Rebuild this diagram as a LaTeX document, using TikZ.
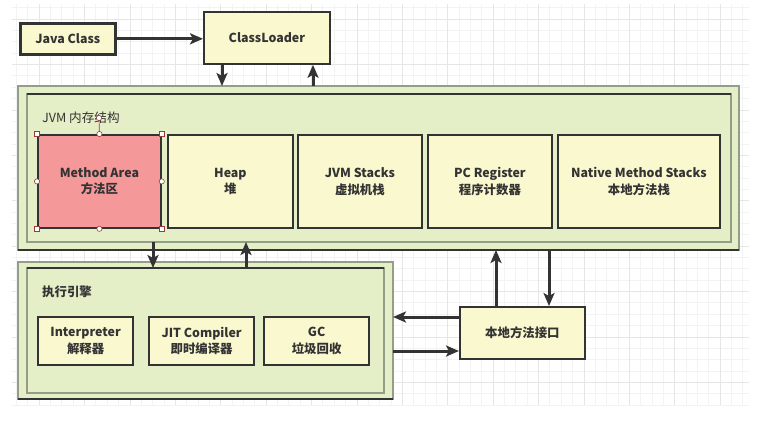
\documentclass[tikz,border=0pt]{standalone}
\usepackage{fontspec}
\setmainfont{Noto Sans CJK SC}
\usetikzlibrary{arrows.meta}
\definecolor{ink}{HTML}{333333}
\definecolor{paper}{HTML}{FAF8CF}
\definecolor{moss}{HTML}{E4EFC8}
\definecolor{mossline}{HTML}{949E86}
\definecolor{rose}{HTML}{F49899}
\definecolor{gridminor}{HTML}{F3F3F3}
\definecolor{gridmajor}{HTML}{E6E6E6}
\definecolor{handle}{HTML}{9C3B3B}
\begin{document}
\begin{tikzpicture}[x=1pt,y=-1pt,
  every node/.style={font=\bfseries\fontsize{12.4}{16.5}\selectfont, text=ink, align=center, inner sep=0pt},
  part/.style={draw=ink, line width=1.8pt, fill=paper, anchor=north west},
  frame/.style={draw=mossline, line width=1.2pt, fill=moss, anchor=north west, outer sep=0pt},
  pane/.style={draw=mossline, line width=1.2pt, anchor=north west, outer sep=0pt},
  edgeline/.style={draw=ink, line width=1.2pt},
  flow/.style={draw=ink, line width=3pt, -{Stealth[length=13pt,width=11pt,inset=3pt]}},
  grip/.style={draw=handle, fill=white, line width=0.6pt, minimum size=5.2pt},
]
\useasboundingbox (0,0) rectangle (757,426);

% background grid
\begin{scope}
  \clip (12,4) rectangle (749,405);
  \foreach \k in {0,...,64} {
    \pgfmathsetmacro\gx{16.4+11.35*\k}
    \draw[gridminor, line width=0.8pt] (\gx,4) -- (\gx,405);
  }
  \foreach \k in {0,...,35} {
    \pgfmathsetmacro\gy{7.75+11.35*\k}
    \draw[gridminor, line width=0.8pt] (12,\gy) -- (749,\gy);
  }
  \foreach \k in {0,...,16} {
    \pgfmathsetmacro\gx{39.1+45.4*\k}
    \draw[gridmajor, line width=0.8pt] (\gx,4) -- (\gx,405);
  }
  \foreach \k in {0,...,8} {
    \pgfmathsetmacro\gy{19.1+45.4*\k}
    \draw[gridmajor, line width=0.8pt] (12,\gy) -- (749,\gy);
  }
\end{scope}

% class loading
\node[part, line width=2.6pt, minimum width=95, minimum height=31] (jc) at (19,22) {Java Class};
\node[part, minimum width=126, minimum height=52] (cl) at (203,11) {ClassLoader};

% JVM memory structure
\node[frame, minimum width=721, minimum height=164] (jvmo) at (18,86) {};
\draw[edgeline] (jvmo.south west) -- (jvmo.south east);
\node[pane, minimum width=704, minimum height=148] (jvmi) at (27,94) {};
\draw[edgeline] (jvmi.north west) -- (jvmi.north east);
\node[anchor=west, font=\fontsize{12.6}{16}\selectfont] (jvmtitle) at (42,118) {JVM 内存结构};

\node[part, fill=rose, minimum width=123, minimum height=93] (ma) at (37,134) {Method Area\\方法区};
\node[part, minimum width=125, minimum height=93] (heap) at (167,134) {Heap\\堆};
\node[part, minimum width=124, minimum height=93] (jvms) at (297,134) {JVM Stacks\\虚拟机栈};
\node[part, minimum width=124, minimum height=93] (pcr) at (427,134) {PC Register\\程序计数器};
\node[part, minimum width=162, minimum height=93] (nms) at (557,134) {Native Method Stacks\\本地方法栈};

% selection handles around the method area
\coordinate (rot) at (99,118);
\draw[handle, line width=0.7pt] (ma.north) -- (rot);
\node[grip, circle] at (rot) {};
\foreach \a in {north west, north east, south west, south east}
  \node[grip, rectangle] at (ma.\a) {};
\foreach \a in {north, south, east, west}
  \node[grip, circle] at (ma.\a) {};

% execution engine
\node[frame, minimum width=375, minimum height=137] (exo) at (18,262) {};
\draw[edgeline] (exo.south west) -- (exo.south east);
\node[pane, minimum width=357, minimum height=125] (exi) at (27,268) {};
\draw[edgeline] (exi.north west) -- (exi.north east);
\node[anchor=west] (extitle) at (42,292) {执行引擎};

\node[part, line width=2.2pt, minimum width=95, minimum height=48] (interp) at (37,316) {Interpreter\\解释器};
\node[part, line width=2.2pt, minimum width=105, minimum height=48] (jit) at (148,316) {JIT Compiler\\即时编译器};
\node[part, line width=2.2pt, minimum width=105, minimum height=48] (gc) at (263,316) {GC\\垃圾回收};

% native interface
\node[part, minimum width=125, minimum height=52] (ni) at (459,306) {本地方法接口};

% connectors
\coordinate (c1) at (222,0);
\coordinate (c2) at (313,0);
\coordinate (c3) at (153,0);
\coordinate (c4) at (246,0);
\coordinate (c5) at (496,0);
\coordinate (c6) at (549,0);
\coordinate (r1) at (0,317);
\coordinate (r2) at (0,351);

\draw[flow] (jc.east) -- (jc.east -| cl.west);
\draw[flow] (cl.south -| c1) -- (jvmo.north -| c1);
\draw[flow] (jvmo.north -| c2) -- (cl.south -| c2);
\draw[flow] (jvmi.south -| c3) -- (exi.north -| c3);
\draw[flow] (exi.north -| c4) -- (jvmi.south -| c4);
\draw[flow] (ni.north -| c5) -- (jvmo.south -| c5);
\draw[flow] (jvmo.south -| c6) -- (ni.north -| c6);
\draw[flow] (ni.west |- r1) -- (exo.east |- r1);
\draw[flow] (exo.east |- r2) -- (ni.west |- r2);
\end{tikzpicture}
\end{document}
